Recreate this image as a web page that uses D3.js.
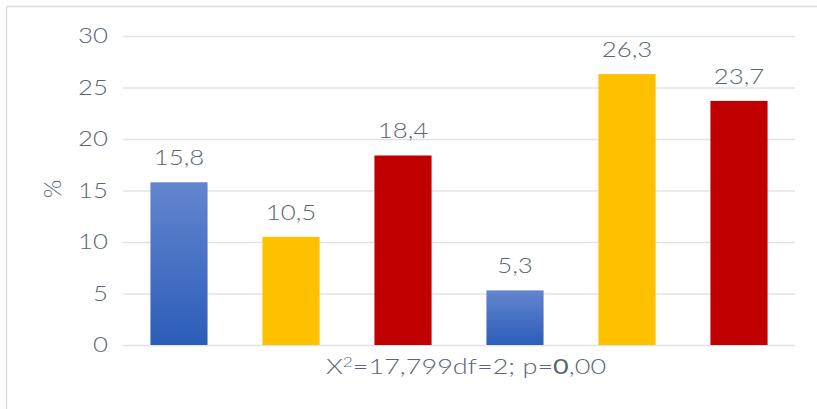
<!DOCTYPE html>
<html>
<head>
<meta charset="utf-8">
<script src="https://cdn.jsdelivr.net/npm/d3@7"></script>
<style>
  html, body { margin: 0; padding: 0; background: #fff; }
  svg { display: block; }
  text { font-family: Lato, "Open Sans", sans-serif; font-weight: 300; fill: #5b6579; }
</style>
</head>
<body>
<svg id="chart" width="817" height="409"></svg>
<script>
// Bar categories and their percentages
const categories = ["a1", "a2", "a3", "b1", "b2", "b3"];
const values = [15.8, 10.5, 18.4, 5.3, 26.3, 23.7];
const valueLabels = ["15,8", "10,5", "18,4", "5,3", "26,3", "23,7"];
const barKinds = ["blue", "yellow", "red", "blue", "yellow", "red"];
const yTicks = [0, 5, 10, 15, 20, 25, 30];
const yTitle = "%";
const xNote = ["X", "2", "=17,799df=2; p=", "0", ",00"];

const svg = d3.select("#chart");
const W = 817, H = 409;
const SX = 1.23; // horizontal widening of the text glyphs

// Chart frame (left and top edges visible)
svg.append("line").attr("x1", 6.5).attr("x2", 6.5).attr("y1", 6.5).attr("y2", H)
  .attr("stroke", "#d9dde3").attr("stroke-width", 1.5);
svg.append("line").attr("x1", 6.5).attr("x2", W).attr("y1", 6.5).attr("y2", 6.5)
  .attr("stroke", "#d9dde3").attr("stroke-width", 1.5);

const x = d3.scaleBand().domain(categories).range([123, 795]).paddingInner(0.49).paddingOuter(0.245);
const y = d3.scaleLinear().domain([0, 30]).range([345, 36]);

const defs = svg.append("defs");
const grad = defs.append("linearGradient").attr("id", "blueGrad")
  .attr("x1", 0).attr("y1", 0).attr("x2", 0).attr("y2", 1);
grad.append("stop").attr("offset", "0%").attr("stop-color", "#6385cf");
grad.append("stop").attr("offset", "100%").attr("stop-color", "#2c5db8");

const fills = { blue: "url(#blueGrad)", yellow: "#ffc000", red: "#c00000" };

// Gridlines and tick labels
const yAxis = d3.axisLeft(y).tickValues(yTicks).tickSize(-(795 - 123)).tickPadding(15);
const ga = svg.append("g").attr("transform", "translate(123,0)").call(yAxis);
ga.select(".domain").remove();
ga.selectAll(".tick line").attr("stroke", "#dfe3e8").attr("stroke-width", 1.5);
ga.selectAll(".tick text").attr("font-size", 21).attr("fill", "#5b6579")
  .attr("font-family", "Lato, sans-serif").attr("font-weight", 300)
  .attr("x", -15 / SX).attr("transform", `scale(${SX},1)`);

// Axis title
svg.append("text").attr("transform", "translate(61,189) rotate(-90)")
  .attr("text-anchor", "middle").attr("font-size", 24).text(yTitle);

// Bars
svg.append("g").selectAll("rect").data(values).join("rect")
  .attr("x", (d, i) => x(categories[i]))
  .attr("width", x.bandwidth())
  .attr("y", d => y(d))
  .attr("height", d => y(0) - y(d))
  .attr("fill", (d, i) => fills[barKinds[i]]);

// Value labels
svg.append("g").selectAll("text").data(values).join("text")
  .attr("transform", (d, i) => `translate(${x(categories[i]) + x.bandwidth() / 2},${y(d) - 17}) scale(${SX},1)`)
  .attr("text-anchor", "middle")
  .attr("font-size", 21)
  .text((d, i) => valueLabels[i]);

// Statistic note under the bars
const note = svg.append("text").attr("transform", `translate(466,374) scale(${SX},1)`)
  .attr("text-anchor", "middle").attr("font-size", 22);
note.append("tspan").text(xNote[0]);
note.append("tspan").attr("dy", -7).attr("font-size", 14).text(xNote[1]);
note.append("tspan").attr("dy", 7).text(xNote[2]);
note.append("tspan").attr("font-weight", 400).text(xNote[3]);
note.append("tspan").text(xNote[4]);
</script>
</body>
</html>
